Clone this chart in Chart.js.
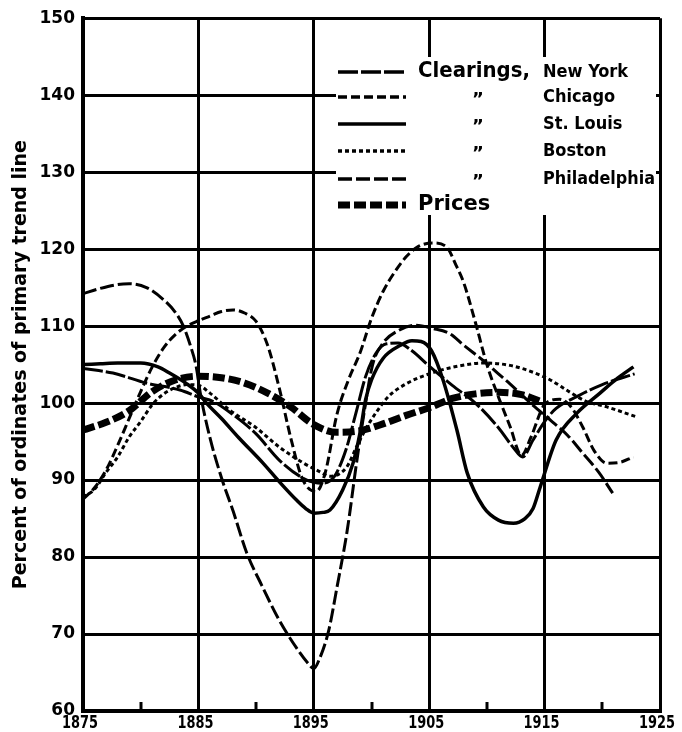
<!DOCTYPE html>
<html lang="en">
<head>
<meta charset="UTF-8" />
<title>Clearings and Prices, percent of primary trend</title>
<script src="https://cdn.jsdelivr.net/npm/chart.js"></script>
<style>
  html, body { margin: 0; padding: 0; background: #fff; }
  #wrap { width: 682px; height: 732px; }
</style>
</head>
<body>
<div id="wrap"><canvas id="chart" width="682" height="732"></canvas></div>
<script>
// values (percent of ordinates of primary trend line)
const nyYears = [1875, 1877.6, 1880.5, 1883.4, 1885, 1886.3, 1888, 1890, 1892, 1894.4, 1895.8, 1896.8, 1897.8, 1898.7, 1899.5, 1900.4, 1901.3, 1902.3, 1903.5, 1905, 1907, 1909, 1911, 1912.3, 1913.1, 1914, 1915, 1916, 1918, 1920, 1922.8];
const nyValues = [104.5, 103.9, 102.6, 101.7, 100.8, 100.2, 98.5, 96, 92.6, 90, 89.6, 90.5, 94, 99, 103.5, 106.5, 107.7, 107.8, 106.8, 104.8, 102.3, 100, 96.8, 94.2, 93, 95.2, 97.6, 99.3, 101, 102.4, 103.8];

const chicagoYears = [1875, 1876, 1877, 1878, 1879, 1880, 1881, 1882, 1883, 1884, 1885, 1886, 1887, 1888, 1889, 1890, 1891, 1892, 1893, 1894, 1895.2, 1896, 1897, 1898, 1899, 1900, 1901, 1902, 1903, 1904, 1905.3, 1906.5, 1907.3, 1908, 1909, 1910, 1911, 1912, 1913, 1913.8, 1915, 1916.3, 1917.3, 1918.3, 1919.3, 1920.4, 1921.5, 1922.7];
const chicagoValues = [87.5, 89, 91.3, 94.5, 98, 101.5, 104.7, 107.2, 108.9, 110, 110.7, 111.3, 111.9, 112.1, 111.7, 110.6, 107.5, 102, 95.5, 90.2, 88.5, 91, 98.5, 103, 106.5, 111, 114.5, 117, 119, 120.3, 120.8, 120.3, 118, 115.6, 110.5, 105, 100.8, 97, 93.2, 95.5, 99.8, 100.5, 99.5, 96.9, 93.8, 92.2, 92.3, 93];

const stLouisYears = [1875, 1876.5, 1878, 1880, 1881.5, 1882.5, 1884, 1885, 1885.7, 1887, 1888.5, 1890.6, 1892, 1893.5, 1894.3, 1895, 1895.8, 1896.4, 1897.5, 1898.4, 1899, 1899.5, 1900, 1901, 1902.5, 1903.5, 1904.3, 1905.2, 1906.2, 1907.4, 1908.3, 1909.7, 1911, 1912.3, 1913.3, 1914, 1914.6, 1916, 1917.8, 1919.8, 1921.3, 1922.7];
const stLouisValues = [105, 105.1, 105.2, 105.2, 104.7, 103.9, 102.5, 101.3, 100, 98, 95.5, 92.2, 89.8, 87.4, 86.3, 85.7, 85.8, 86.1, 88.7, 92.2, 96.1, 100.5, 103, 105.8, 107.5, 108.1, 108, 106.8, 103, 96.5, 90.9, 86.5, 84.8, 84.4, 85, 86.3, 89, 95.2, 98.7, 101.3, 103.2, 104.7];

const bostonYears = [1875, 1876, 1877, 1878, 1879, 1880, 1881, 1882, 1883, 1884, 1885, 1886, 1887.7, 1890, 1892, 1894, 1895.5, 1896.4, 1897.2, 1897.9, 1898.7, 1899.6, 1900.5, 1901.5, 1903, 1905, 1907.5, 1909.7, 1912, 1914, 1915.5, 1917, 1918.5, 1920.4, 1923];
const bostonValues = [87.8, 88.8, 91, 93, 95.6, 97.6, 99.8, 101.2, 102, 102.4, 102.3, 101.3, 99.1, 96.8, 94.3, 92.3, 91.1, 90.5, 90.8, 91.8, 94.3, 96.9, 99, 100.9, 102.5, 103.8, 104.8, 105.2, 104.9, 104, 103, 101.6, 100.3, 99.5, 98.2];

const philaYears = [1875, 1876.5, 1878, 1879, 1880.5, 1882, 1883, 1883.7, 1884.3, 1884.8, 1885.2, 1886, 1887, 1888, 1889.2, 1890.5, 1892, 1893.5, 1894.5, 1895, 1895.5, 1896.3, 1897, 1897.9, 1898.7, 1899.3, 1900.1, 1901, 1902.3, 1903.8, 1905.3, 1906.8, 1908, 1909.7, 1911, 1912, 1914, 1915.5, 1917, 1918.3, 1919.7, 1920.9];
const philaValues = [114.2, 114.9, 115.4, 115.5, 115, 113.4, 111.8, 110, 107.5, 104.8, 101, 95.5, 90.3, 86, 80.5, 76.3, 71.8, 68.2, 66.2, 65.5, 66.8, 70.5, 76, 83.5, 92.2, 98.2, 105, 107.8, 109.4, 110.1, 109.7, 109, 107.5, 105.5, 103.8, 102.5, 99.7, 97.8, 95.8, 93.5, 91, 88.3];

const priceYears = [1875, 1877, 1879, 1881, 1883, 1885, 1887, 1889, 1891, 1893, 1895, 1897, 1899, 1901, 1903, 1905, 1907, 1909, 1911, 1913, 1915];
const priceValues = [96.5, 97.5, 99, 101.5, 103, 103.5, 103.3, 102.6, 101.3, 99.5, 97.2, 96.2, 96.4, 97.3, 98.4, 99.4, 100.6, 101.2, 101.4, 101.1, 100];

const cityNames = ['New York', 'Chicago', 'St. Louis', 'Boston', 'Philadelphia'];
const leadLabel = 'Clearings,';
const dittoMark = '\u201D';
const pricesLabel = 'Prices';

const xLabelYears = [1875, 1885, 1895, 1905, 1915, 1925];
const minorTickYears = [1880, 1890, 1900, 1910, 1920];
const yTicks = [60, 70, 80, 90, 100, 110, 120, 130, 140, 150];
const yTitle = 'Percent of ordinates of primary trend line';

const narrow = '"DejaVu Sans Condensed", "Liberation Sans Narrow", "DejaVu Sans"';

function pts(xs, ys) {
    return xs.map((x, i) => ({ x: x, y: ys[i] }));
}

// line looks, in legend order
const styles = [
    { dash: [20, 3], width: 3 },
    { dash: [9, 4], width: 3 },
    { dash: [], width: 3.5 },
    { dash: [4, 3], width: 3 },
    { dash: [14, 4], width: 3 },
    { dash: [12, 4], width: 7 }
];

const seriesPts = [
    pts(nyYears, nyValues),
    pts(chicagoYears, chicagoValues),
    pts(stLouisYears, stLouisValues),
    pts(bostonYears, bostonValues),
    pts(philaYears, philaValues),
    pts(priceYears, priceValues)
];
const seriesLabels = cityNames.concat([pricesLabel]);

const datasets = seriesPts.map((d, i) => ({
    label: seriesLabels[i],
    data: d,
    borderColor: '#000',
    borderWidth: styles[i].width,
    borderDash: styles[i].dash,
    borderCapStyle: 'butt',
    pointRadius: 0,
    fill: false,
    cubicInterpolationMode: 'monotone'
}));

// legend box laid over the upper right of the grid, year labels and short ticks
const paperPlugin = {
    id: 'paper',
    afterDatasetsDraw(chart) {
        const ctx = chart.ctx;
        const xs = chart.scales.x;
        const ys = chart.scales.y;
        ctx.save();

        // short ticks at the half decades
        ctx.strokeStyle = '#000';
        ctx.lineWidth = 3;
        minorTickYears.forEach(yr => {
            const px = Math.round(xs.getPixelForValue(yr));
            ctx.beginPath();
            ctx.moveTo(px, ys.bottom);
            ctx.lineTo(px, ys.bottom - 9);
            ctx.stroke();
        });

        // narrow year labels under the axis
        ctx.fillStyle = '#000';
        ctx.textAlign = 'center';
        ctx.textBaseline = 'middle';
        ctx.font = 'bold 18px ' + narrow;
        xLabelYears.forEach(yr => {
            ctx.fillText(String(yr), xs.getPixelForValue(yr) - 3, ys.bottom + 12, 36);
        });

        // legend
        ctx.fillStyle = '#fff';
        ctx.fillRect(336, 57, 320, 158);
        const rowY = [72, 97, 124, 151, 179, 205];
        ctx.fillStyle = '#000';
        rowY.forEach((y, i) => {
            ctx.beginPath();
            ctx.setLineDash(styles[i].dash);
            ctx.lineWidth = i === 5 ? 7 : 3.5;
            ctx.moveTo(338, y);
            ctx.lineTo(406, y);
            ctx.stroke();
            ctx.setLineDash([]);
            if (i === 0) {
                ctx.font = 'bold 21px "DejaVu Sans"';
                ctx.textAlign = 'left';
                ctx.fillText(leadLabel, 418, y, 112);
            } else if (i < 5) {
                ctx.font = 'bold 18px "DejaVu Sans"';
                ctx.textAlign = 'center';
                ctx.fillText(dittoMark, 478, y + 3);
            } else {
                ctx.font = 'bold 21px "DejaVu Sans"';
                ctx.textAlign = 'left';
                ctx.fillText(pricesLabel, 418, y);
            }
            if (i < 5) {
                ctx.font = 'bold 18px ' + narrow;
                ctx.textAlign = 'left';
                ctx.fillText(cityNames[i], 543, y, 112);
            }
        });
        ctx.restore();
    }
};

new Chart(document.getElementById('chart'), {
    type: 'line',
    data: { datasets: datasets },
    options: {
        responsive: false,
        animation: false,
        layout: { padding: { top: 18, right: 22, left: 0, bottom: 0 } },
        plugins: {
            legend: { display: false },
            tooltip: { enabled: false }
        },
        scales: {
            x: {
                type: 'linear',
                min: 1875,
                max: 1925,
                afterFit: s => { s.height = 21; },
                afterBuildTicks: s => {
                    s.ticks = xLabelYears.concat(minorTickYears).sort((a, b) => a - b).map(v => ({ value: v }));
                },
                ticks: { display: false },
                grid: {
                    drawTicks: false,
                    lineWidth: 3,
                    color: c => (c.tick && xLabelYears.includes(c.tick.value)) ? '#000' : 'rgba(0,0,0,0)'
                },
                border: { display: true, color: '#000', width: 4 }
            },
            y: {
                min: 60,
                max: 150,
                afterFit: s => { s.width = 83; },
                afterBuildTicks: s => { s.ticks = yTicks.map(v => ({ value: v })); },
                ticks: {
                    color: '#000',
                    padding: 8,
                    font: { family: 'DejaVu Sans', size: 17, weight: 'bold' }
                },
                grid: { drawTicks: false, lineWidth: 3, color: '#000' },
                border: { display: true, color: '#000', width: 4 },
                title: {
                    display: true,
                    text: yTitle,
                    color: '#000',
                    padding: { top: 10, bottom: 0 },
                    font: { family: 'DejaVu Sans', size: 19, weight: 'bold' }
                }
            }
        }
    },
    plugins: [paperPlugin]
});
</script>
</body>
</html>
